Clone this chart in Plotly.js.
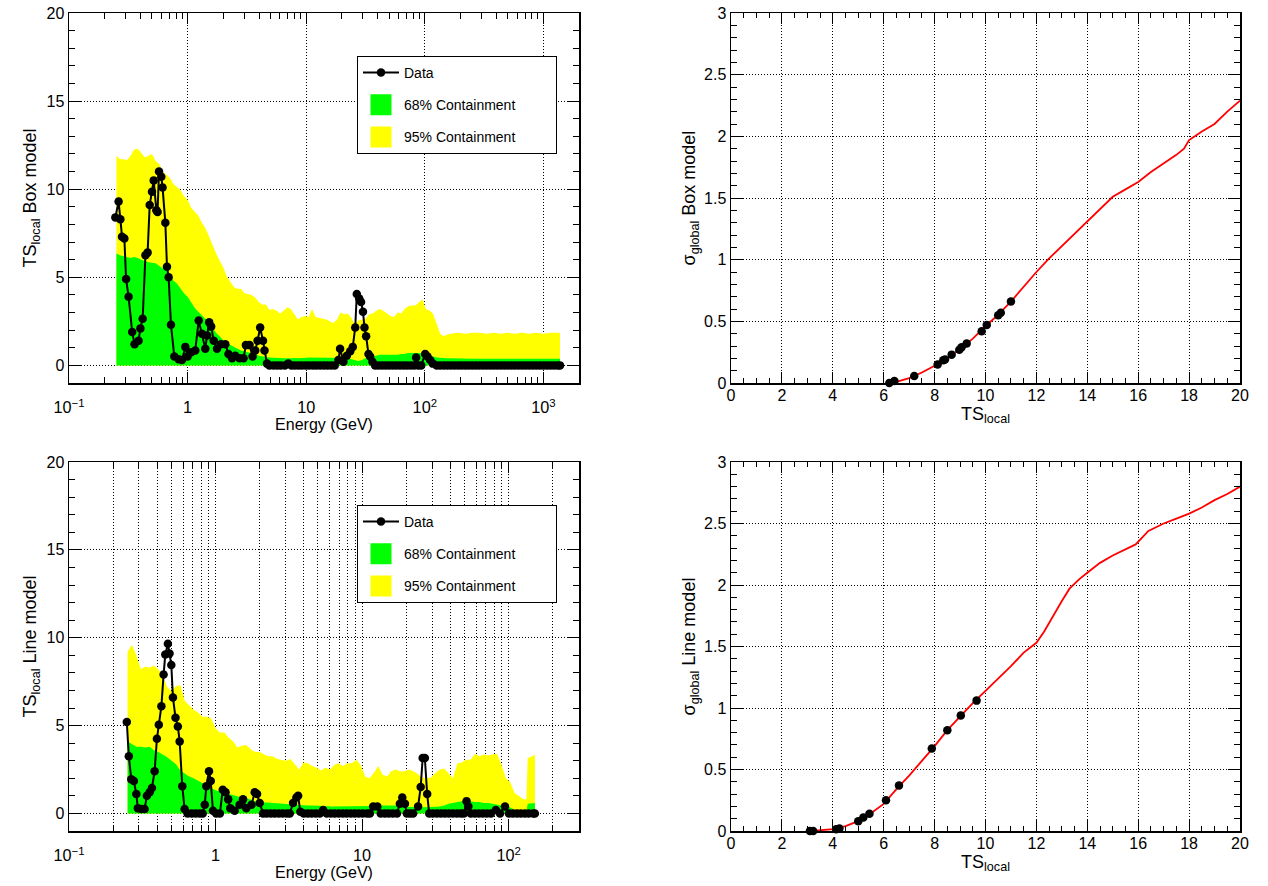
<!DOCTYPE html>
<html>
<head>
<meta charset="utf-8">
<script src="https://cdn.plot.ly/plotly-3.0.1.min.js"></script>
<style>html,body{margin:0;padding:0;background:#fff;}#chart{width:1268px;height:886px;}</style>
</head>
<body>
<div id="chart"></div>
<script>
// ---------- Top-left: Box model, TS_local vs Energy ----------
const boxEnergy = [0.246,0.262,0.271,0.280,0.293,0.303,0.318,0.341,0.357,0.386,0.400,0.418,0.441,0.460,0.479,0.501,0.518,0.545,0.558,0.574,0.600,0.615,0.649,0.670,0.692,0.724,0.773,0.840,0.897,0.957,1.00,1.07,1.16,1.24,1.32,1.41,1.46,1.52,1.58,1.66,1.77,1.91,2.08,2.21,2.37,2.52,2.74,2.96,3.10,3.33,3.53,3.72,3.89,4.09,4.32,4.45,4.67,
  4.9,5.3,5.7,6.1,6.6,7.06,7.5,8.0,8.6,9.2,9.9,10.6,11.4,12.2,13.1,14.1,15.1,16.2,17.4,
  18.7,19.3,20.6,22.0,23.5,24.7,25.9,26.7,28.0,29.0,30.1,31.0,32.0,33.5,34.6,36.2,
  38.1,40.7,43.7,46.8,50.1,53.7,57.5,61.7,66.1,70.8,75.9,81.3,84.5,88.0,93.3,100.7,105.2,110.9,116.8,
  126,135,145,155,166,178,191,204,219,234,251,269,288,309,331,355,380,407,437,468,501,537,575,617,661,708,759,813,871,933,1000,1072,1148,1230,1318,1380];
const boxTS = [8.4,9.3,8.3,7.3,7.2,4.9,3.9,1.9,1.2,1.4,2.1,2.65,6.25,6.4,9.1,9.85,10.5,8.8,8.7,11.0,10.7,10.1,8.1,5.6,5.0,2.3,0.5,0.35,0.3,1.05,0.5,0.75,0.85,2.55,1.8,0.95,1.7,2.45,2.2,1.4,0.95,1.2,1.2,0.65,0.4,0.55,0.4,0.4,1.15,1.15,0.5,0.85,1.4,2.15,1.4,0.85,0.1,
  0,0,0,0,0,0.1,0,0,0,0,0,0,0,0,0,0,0,0,0,
  0.3,0.95,0.2,0.55,0.8,1.05,2.15,4.05,3.8,3.6,3.05,2.15,1.65,0.65,0.5,0.2,
  0,0,0,0,0,0,0,0,0,0,0,0,0.45,0,0,0.65,0.5,0.3,0.1,
  0,0,0,0,0,0,0,0,0,0,0,0,0,0,0,0,0,0,0,0,0,0,0,0,0,0,0,0,0,0,0,0,0,0,0,0];
const boxBandEnergy = [0.251,0.269,0.288,0.309,0.331,0.355,0.380,0.407,0.437,0.468,0.501,0.537,0.575,0.617,0.661,0.708,0.759,0.813,0.871,0.933,
  1.00,1.07,1.15,1.23,1.32,1.41,1.51,1.62,1.74,1.86,2.00,2.14,2.29,2.45,2.63,2.82,3.02,3.24,3.47,3.72,3.98,4.27,4.57,4.90,5.25,5.62,6.03,6.46,6.92,7.41,7.94,8.51,9.12,9.77,
  10.5,11.2,12.0,12.9,13.8,14.8,15.8,16.9,18.2,19.5,20.9,22.4,24.0,25.7,27.5,29.5,31.6,33.9,36.3,38.9,41.7,44.7,47.9,51.3,55.0,58.9,63.1,67.6,72.4,77.6,83.2,89.1,95.5,
  102,110,117,126,135,145,155,166,
  191,219,251,288,331,380,437,501,575,661,759,871,1000,1148,1318,1380];
const boxBand95 = [11.9,11.7,11.7,11.65,11.9,12.25,12.3,12.05,11.8,11.9,12.0,11.6,11.45,11.0,10.85,10.65,10.3,10.1,9.95,9.6,
  9.4,8.95,8.7,8.5,8.1,7.8,7.35,6.8,6.35,5.95,5.55,5.05,4.75,4.45,4.35,4.35,4.1,4.05,4.0,3.85,3.6,3.45,3.45,3.15,3.2,3.1,2.95,3.1,3.3,3.2,2.9,2.6,2.75,2.8,
  2.75,3.2,2.75,2.7,2.65,2.6,2.5,2.4,2.6,3.0,2.9,2.95,2.7,2.3,2.55,2.6,2.65,2.9,2.95,3.1,3.2,3.1,2.95,2.8,2.75,3.0,2.95,3.2,3.35,3.4,3.4,3.55,3.75,
  3.2,3.1,2.95,2.4,1.8,1.65,1.75,1.8,
  1.85,1.8,1.85,1.85,1.8,1.85,1.8,1.85,1.8,1.85,1.8,1.85,1.8,1.85,1.85,1.85];
const boxBand68 = [6.35,6.25,6.2,6.15,6.1,6.15,6.1,6.0,5.9,5.85,5.82,5.8,5.65,5.5,5.35,5.15,4.8,4.65,4.35,4.1,
  3.9,3.55,3.25,3.05,2.85,2.65,2.45,2.15,1.85,1.65,1.42,1.27,1.15,1.05,0.95,0.85,0.8,0.75,0.7,0.65,0.55,0.5,0.48,0.45,0.43,0.42,0.4,0.4,0.4,0.4,0.4,0.4,0.4,0.42,
  0.45,0.45,0.45,0.45,0.45,0.45,0.45,0.45,0.45,0.45,0.42,0.4,0.35,0.3,0.25,0.3,0.4,0.45,0.5,0.55,0.6,0.6,0.6,0.6,0.6,0.6,0.65,0.65,0.7,0.7,0.7,0.72,0.72,
  0.7,0.6,0.5,0.45,0.42,0.4,0.4,0.4,
  0.38,0.38,0.38,0.38,0.38,0.38,0.38,0.38,0.38,0.38,0.38,0.38,0.38,0.38,0.38,0.38];

// ---------- Bottom-left: Line model ----------
const lineEnergy = [0.248,0.256,0.266,0.277,0.288,0.295,0.311,0.328,0.340,0.355,0.368,0.384,0.398,0.410,0.427,0.442,0.454,0.473,0.485,0.499,0.512,0.533,0.553,0.569,0.593,0.615,
  0.644,0.687,0.731,0.778,0.817,
  0.844,0.865,0.902,0.927,0.960,1.01,1.07,
  1.12,1.17,1.22,1.26,1.35,1.46,1.54,1.62,1.76,1.85,1.92,2.00,2.11,
  2.23,2.38,2.53,2.70,2.87,3.06,3.21,
  3.38,3.56,3.66,3.79,
  4.00,4.26,4.53,4.83,5.14,
  5.42,
  5.74,6.11,6.50,6.93,7.38,7.85,8.37,8.91,9.49,10.1,10.8,11.3,
  11.9,12.7,
  13.4,14.3,15.2,16.2,17.3,
  18.1,18.8,19.6,20.2,21.2,22.3,
  24.1,25.1,25.9,26.8,27.8,28.7,
  30.4,32.4,34.5,36.7,39.1,41.6,44.4,47.2,49.5,
  51.6,53.1,
  55.2,58.9,62.7,66.7,71.1,75.7,
  81.8,87.3,94.4,
  100.5,107,114,121,129,137,147,151];
const lineTS = [5.2,3.25,1.95,1.85,1.1,0.3,0.25,0.25,1.0,1.2,1.45,2.4,4.25,5.05,6.1,7.9,9.05,9.65,9.1,8.45,6.6,5.45,4.95,4.1,1.55,0.25,
  0,0,0,0,0,
  0.5,1.55,2.4,1.85,0.15,0,0,
  1.35,1.2,0.8,0.3,0.15,0.5,0.8,0.3,0.5,1.2,1.1,0.6,0,
  0,0,0,0,0,0,0,
  0.6,0.9,1.0,0.1,
  0,0,0,0,0,
  0.2,
  0,0,0,0,0,0,0,0,0,0,0,0,
  0.4,0.4,
  0,0,0,0,0,
  0.55,0.9,0.55,0,0,0,
  0.4,1.5,3.15,3.15,1.1,0,
  0,0,0,0,0,0,0,0,0,
  0.7,0.4,
  0,0,0,0,0,0,
  0.2,0,0.4,
  0,0,0,0,0,0,0,0];
const lineBandEnergy = [0.251,0.269,0.288,0.309,0.331,0.355,0.380,0.407,0.437,0.468,0.501,0.537,0.575,0.617,0.661,0.708,0.759,0.813,0.871,0.933,
  1.00,1.07,1.15,1.23,1.32,1.41,1.51,1.62,1.74,1.86,2.00,2.14,2.29,2.45,2.63,2.82,3.02,3.24,3.47,3.72,3.98,4.27,4.57,4.90,5.25,5.62,6.03,6.46,6.92,7.41,7.94,8.51,9.12,9.77,
  10.5,11.2,12.0,12.9,13.8,14.8,15.8,16.9,18.2,19.5,20.9,22.4,24.0,25.7,27.5,29.5,31.6,33.9,36.3,38.9,41.7,44.7,47.9,51.3,55.0,58.9,63.1,67.6,72.4,77.6,83.2,89.1,95.5,
  102,110,117,126,132,135,145,151];
const lineBand95 = [9.2,9.6,9.0,8.2,8.35,8.3,8.4,8.2,7.8,7.2,6.95,7.25,7.3,6.4,6.15,5.9,5.75,5.5,5.5,5.4,
  4.85,4.6,4.6,4.3,4.1,3.75,3.85,3.9,3.65,3.5,3.5,3.35,3.25,3.25,3.1,3.05,3.0,3.1,2.8,2.5,2.9,2.85,2.7,2.6,2.45,2.6,2.5,2.75,2.85,2.7,2.85,2.85,3.05,2.75,
  2.1,2.0,2.3,2.7,2.2,2.1,2.4,2.5,2.4,2.4,2.5,2.4,2.25,2.05,2.0,2.05,2.3,2.5,2.55,2.3,2.0,2.85,2.9,3.05,3.05,3.4,3.25,3.35,3.3,3.35,3.4,2.8,2.0,
  1.8,1.15,1.0,0.8,0.8,3.15,3.25,3.35];
const lineBand68 = [4.1,3.95,3.8,3.8,3.75,3.8,3.6,3.5,3.35,3.2,3.0,2.8,2.45,2.25,2.1,2.0,1.85,1.75,1.6,1.45,
  1.32,1.25,1.18,1.12,1.05,0.98,0.9,0.88,0.78,0.7,0.65,0.62,0.6,0.6,0.58,0.55,0.55,0.52,0.5,0.48,0.45,0.45,0.45,0.45,0.45,0.42,0.4,0.4,0.4,0.4,0.4,0.4,0.4,0.4,
  0.4,0.4,0.42,0.45,0.45,0.45,0.45,0.45,0.4,0.38,0.35,0.35,0.35,0.35,0.35,0.35,0.38,0.4,0.45,0.55,0.6,0.65,0.7,0.7,0.7,0.65,0.65,0.6,0.6,0.55,0.5,0.45,0.4,
  0.35,0.2,0.1,0.1,0.1,0.55,0.6,0.6];

// ---------- Top-right: sigma_global (Box model) vs TS_local ----------
const boxCurveTS = [6.2,6.5,7,7.5,8,8.5,9,9.5,10,10.5,11,11.5,12,12.5,13,13.5,14,14.5,15,15.5,16,16.5,17,17.5,17.8,18,18.5,19,19.5,20];
const boxCurveSigma = [0,0.01,0.04,0.085,0.14,0.2,0.275,0.36,0.46,0.555,0.66,0.78,0.9,1.01,1.11,1.21,1.31,1.41,1.51,1.57,1.63,1.71,1.78,1.85,1.9,1.97,2.04,2.1,2.2,2.29];
const boxPointTS = [6.22,6.42,7.2,8.12,8.34,8.41,8.67,8.97,9.06,9.26,9.85,10.05,10.5,10.6,11.0];
const boxPointSigma = [0.0,0.016,0.057,0.15,0.185,0.19,0.23,0.27,0.29,0.32,0.42,0.47,0.55,0.57,0.66];

// ---------- Bottom-right: sigma_global (Line model) vs TS_local ----------
const lineCurveTS = [3.2,3.5,4,4.5,5,5.5,6,6.5,7,7.5,8,8.5,9,9.5,10,10.5,11,11.5,12,12.3,12.7,13,13.3,13.7,14,14.5,15,15.5,15.9,16.4,17,17.5,18,18.5,19,19.5,20];
const lineCurveSigma = [0,0.005,0.015,0.04,0.08,0.145,0.22,0.34,0.45,0.57,0.69,0.82,0.93,1.04,1.14,1.24,1.34,1.45,1.53,1.62,1.77,1.87,1.97,2.05,2.1,2.18,2.24,2.29,2.33,2.44,2.5,2.54,2.58,2.63,2.69,2.74,2.8];
const linePointTS = [3.1,3.23,4.13,4.26,5.0,5.2,5.44,6.09,6.6,7.89,8.5,9.03,9.65];
const linePointSigma = [0,0,0.015,0.02,0.08,0.11,0.14,0.25,0.37,0.67,0.82,0.94,1.06];

const legendNames = ['Data', '68% Containment', '95% Containment'];

const GREEN = '#00ff00', YELLOW = '#ffff00';
const PAD = '\u00a0'.repeat(9); // trailing blank room so the legend box is as wide as the original
const traces = [];
function legendSwatch(xa, ya, legendId, name, color, rank) {
  // legend-only entry (no data) so the legend shows a filled block
  traces.push({x: [null], y: [null], xaxis: xa, yaxis: ya, type: 'scatter', mode: 'markers',
    marker: {symbol: 'square', size: 16, color: color, line: {color: color, width: 5}},
    name: name + PAD, legend: legendId, legendgroup: legendId + rank, legendrank: rank, hoverinfo: 'skip'});
}
function leftPanel(xa, ya, legendId, bandE, b95, b68, dataE, dataTS) {
  traces.push({x: bandE, y: b95, xaxis: xa, yaxis: ya, type: 'scatter', mode: 'lines', fill: 'tozeroy',
    fillcolor: YELLOW, line: {width: 0, color: YELLOW}, name: legendNames[2], showlegend: false,
    legend: legendId, hoverinfo: 'skip'});
  traces.push({x: bandE, y: b68, xaxis: xa, yaxis: ya, type: 'scatter', mode: 'lines', fill: 'tozeroy',
    fillcolor: GREEN, line: {width: 0, color: GREEN}, name: legendNames[1], showlegend: false,
    legend: legendId, hoverinfo: 'skip'});
  traces.push({x: dataE, y: dataTS, xaxis: xa, yaxis: ya, type: 'scatter', mode: 'lines+markers',
    line: {color: 'black', width: 2}, marker: {color: 'black', size: 8.5}, name: legendNames[0], legend: legendId,
    legendgroup: legendId + 1, legendrank: 1});
  legendSwatch(xa, ya, legendId, legendNames[1], GREEN, 2);
  legendSwatch(xa, ya, legendId, legendNames[2], YELLOW, 3);
}
function rightPanel(xa, ya, cTS, cS, pTS, pS) {
  traces.push({x: cTS, y: cS, xaxis: xa, yaxis: ya, type: 'scatter', mode: 'lines',
    line: {color: '#ff0000', width: 1.8}, showlegend: false});
  traces.push({x: pTS, y: pS, xaxis: xa, yaxis: ya, type: 'scatter', mode: 'markers',
    marker: {color: 'black', size: 8.5}, showlegend: false, cliponaxis: false});
}
leftPanel('x', 'y', 'legend', boxBandEnergy, boxBand95, boxBand68, boxEnergy, boxTS);
rightPanel('x2', 'y2', boxCurveTS, boxCurveSigma, boxPointTS, boxPointSigma);
leftPanel('x3', 'y3', 'legend2', lineBandEnergy, lineBand95, lineBand68, lineEnergy, lineTS);
rightPanel('x4', 'y4', lineCurveTS, lineCurveSigma, linePointTS, linePointSigma);

const W = 1268, H = 886;
const colL = [69 / W, 579 / W], colR = [731 / W, 1240 / W];
const rowT = [1 - 383 / H, 1 - 13 / H], rowB = [1 - 831 / H, 1 - 462 / H];
const DOT = '1px,2px';
function ax(extra) {
  return Object.assign({
    showline: true, linecolor: 'black', linewidth: 1.5, mirror: 'allticks',
    ticks: 'inside', tickcolor: 'black', tickwidth: 1,
    showgrid: true, gridcolor: 'black', gridwidth: 1, griddash: DOT, zeroline: false,
    tickfont: {size: 16, color: 'black'}, fixedrange: true
  }, extra);
}
function legendBox(topPx) {
  return {x: 357 / W, y: 1 - topPx / H, xanchor: 'left', yanchor: 'top', bgcolor: 'white',
    bordercolor: 'black', borderwidth: 1, font: {size: 14, color: 'black'}, tracegroupgap: 11,
    traceorder: 'grouped', itemwidth: 36};
}
const layout = {
  width: W, height: H, margin: {l: 0, r: 0, t: 0, b: 0},
  paper_bgcolor: 'white', plot_bgcolor: 'white',
  font: {family: '"Liberation Sans", Arial, sans-serif', color: 'black'},
  showlegend: true,
  legend: legendBox(56), legend2: legendBox(505),
  xaxis: ax({domain: colL, anchor: 'y', type: 'log', range: [-1, 3.3], dtick: 1, exponentformat: 'power',
    tickfont: {size: 13}, ticklen: 11, ticklabelstandoff: 10,
    minor: {dtick: 'D1', ticks: 'inside', ticklen: 6, tickcolor: 'black', showgrid: false},
    title: {text: 'Energy (GeV)', font: {size: 16}, standoff: 1}}),
  yaxis: ax({domain: rowT, anchor: 'x', range: [-1, 20], tick0: 0, dtick: 5, ticklen: 12,
    minor: {dtick: 1, ticks: 'inside', ticklen: 6, tickcolor: 'black', showgrid: false},
    title: {text: 'TS<sub>local</sub> Box model', font: {size: 18}, standoff: 5}}),
  xaxis2: ax({domain: colR, anchor: 'y2', range: [0, 20], dtick: 2, ticklen: 11, ticklabelstandoff: -3,
    minor: {dtick: 0.5, ticks: 'inside', ticklen: 5, tickcolor: 'black', showgrid: false},
    title: {text: 'TS<sub>local</sub>', font: {size: 18}, standoff: 2}}),
  yaxis2: ax({domain: rowT, anchor: 'x2', range: [0, 3], dtick: 0.5, ticklen: 12,
    minor: {dtick: 0.1, ticks: 'inside', ticklen: 6, tickcolor: 'black', showgrid: false},
    title: {text: 'σ<sub>global</sub> Box model', font: {size: 18}, standoff: 3}}),
  xaxis3: ax({domain: colL, anchor: 'y3', type: 'log', range: [-1, 2.48], dtick: 1, exponentformat: 'power',
    tickfont: {size: 13}, ticklen: 11, ticklabelstandoff: 10,
    minor: {dtick: 'D1', ticks: 'inside', ticklen: 6, tickcolor: 'black', showgrid: true,
      gridcolor: 'black', gridwidth: 1, griddash: DOT},
    title: {text: 'Energy (GeV)', font: {size: 16}, standoff: 1}}),
  yaxis3: ax({domain: rowB, anchor: 'x3', range: [-1, 20], tick0: 0, dtick: 5, ticklen: 12,
    minor: {dtick: 1, ticks: 'inside', ticklen: 6, tickcolor: 'black', showgrid: false},
    title: {text: 'TS<sub>local</sub> Line model', font: {size: 18}, standoff: 5}}),
  xaxis4: ax({domain: colR, anchor: 'y4', range: [0, 20], dtick: 2, ticklen: 11, ticklabelstandoff: -3,
    minor: {dtick: 0.5, ticks: 'inside', ticklen: 5, tickcolor: 'black', showgrid: false},
    title: {text: 'TS<sub>local</sub>', font: {size: 18}, standoff: 2}}),
  yaxis4: ax({domain: rowB, anchor: 'x4', range: [0, 3], dtick: 0.5, ticklen: 12,
    minor: {dtick: 0.1, ticks: 'inside', ticklen: 6, tickcolor: 'black', showgrid: false},
    title: {text: 'σ<sub>global</sub> Line model', font: {size: 18}, standoff: 3}})
};
Plotly.newPlot('chart', traces, layout, {displayModeBar: false, staticPlot: true});
</script>
</body>
</html>
